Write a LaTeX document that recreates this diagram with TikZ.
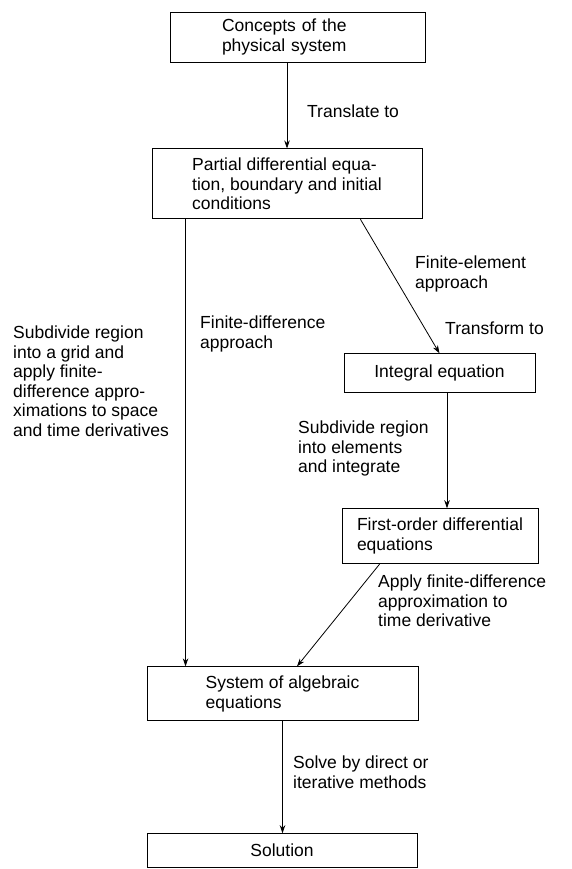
\documentclass[tikz,border=0pt]{standalone}
\usepackage{fontspec}
\setmainfont{Liberation Sans}
\usetikzlibrary{positioning,arrows.meta}
\tikzstyle{stage} = [rectangle, draw, line width=0.9pt, align=left, inner sep=6pt, font=\fontsize{17.5}{19.5}\selectfont]
\tikzstyle{note} = [align=left, inner sep=0pt, anchor=north west, font=\fontsize{17.5}{19.5}\selectfont]
\tikzstyle{arrow} = [-{Stealth[length=8pt,width=5.5pt]}, line width=0.8pt]

\begin{document}
\begin{tikzpicture}[x=1pt, y=1pt]
    \useasboundingbox (0,0) rectangle (571,-869);

    % Concepts
    \node[stage, minimum width=255pt, minimum height=50pt, inner xsep=0pt, text width=151pt] (concepts) at (297.5,-37) {Concepts of the\\physical system};

    % PDE
    \node[stage, below=86pt of concepts, xshift=-10.5pt, minimum width=270pt, minimum height=70pt] (pde) {Partial differential equa-\\tion, boundary and initial\\conditions};

    % Finite-element branch
    \node[stage, below=134pt of pde, xshift=152.5pt, minimum width=191pt, minimum height=39pt] (integral) {Integral equation};
    \node[stage, below=115pt of integral, xshift=0.5pt, minimum width=196pt, minimum height=55pt] (firstorder) {First-order differential\\equations};

    % Algebraic system and solution
    \node[stage, below=447pt of pde, xshift=-4.5pt, minimum width=271pt, minimum height=54pt] (system) {System of algebraic\\equations};
    \node[stage, below=112pt of system, xshift=-0.5pt, minimum width=270pt, minimum height=34pt] (solution) {Solution};

    % Labels
    \node[note] (translate) at (307,-105) {Translate to};
    \node[note] (fe) at (415,-256) {Finite-element\\approach};
    \node[note] (transform) at (445,-322) {Transform to};
    \node[note] (fd) at (200,-316) {Finite-difference\\approach};
    \node[note] (grid) at (13,-326) {Subdivide region\\into a grid and\\apply finite-\\difference appro-\\ximations to space\\and time derivatives};
    \node[note] (elements) at (298,-421) {Subdivide region\\into elements\\and integrate};
    \node[note] (apply) at (378,-575) {Apply finite-difference\\approximation to\\time derivative};
    \node[note] (solve) at (293,-756) {Solve by direct or\\iterative methods};

    % Arrows
    \draw[arrow] (concepts.south -| pde.north) -- (pde.north);
    \draw[arrow] ([xshift=34pt]pde.south west) -- ([xshift=34pt]pde.south west |- system.north);
    \draw[arrow] ([xshift=-62pt]pde.south east) -- (integral.north);
    \draw[arrow] ([xshift=7.5pt]integral.south) -- ([xshift=7.5pt]integral.south |- firstorder.north);
    \draw[arrow] ([xshift=38pt]firstorder.south west) -- ([xshift=14.5pt]system.north);
    \draw[arrow] (system.south) -- (system.south |- solution.north);
\end{tikzpicture}
\end{document}
